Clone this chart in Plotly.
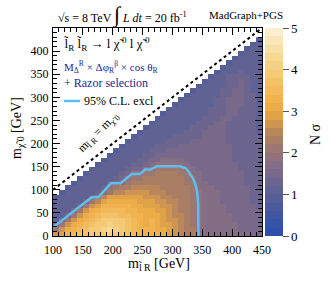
import plotly.graph_objects as go

# ---------------- data ----------------
# cell lower edges (GeV), 10 GeV cells
M_SLEPTON_EDGES = list(range(100, 450, 10))   # x: 100 ... 440
M_CHI_EDGES = list(range(0, 430, 10))         # y: 0 ... 420

# N sigma per row (row y = M_CHI_EDGES[i]); each row starts at x = max(100, y+20)
# letter code: a=0.0, f=1.0, k=2.0, p=3.0, u=4.0, z=5.0 (0.2 per letter)
ROWS = [
    "noqrsst ttuttsrqq qqponmllj iiiiiiiihh",  # 0
    "knpqrst tuvutsrqq qpponmllj iiiiiihhhh",  # 10
    "hknpqrs ttuttsrqp qpoonmlkj iiiiiihhhh",  # 20
    "fhknpqr sttttsrqp qponnmlkj iiiiihhhhh",  # 30
    "ffhknpq rsssrrqqp pponmmlkj iiiiihhhhh",  # 40
    "fffhknp qrrrrqqpp poonmllkj iiiihhhhhh",  # 50
    "ffffhkn oqqqqqppo oonnmllkj iiiihhhhhg",  # 60
    "fffffhk mopppppoo onnmmllkj iiihhhhhgg",  # 70
    "efffffh jmoooooon nnmmlllkj iiihhhhhgg",  # 80
    "efffff gikmmnnnn mmmllllkj iiihhhhhgg",   # 90
    "effff fgjkllmmm mmlllllki iihhhhhhgg",    # 100
    "efff ffhiiklll llllllkki ihhhhhhggg",     # 110
    "eff fffghjkkl llllllkji hhhhhhhggg",      # 120
    "ef ffffghjjk kllllkkii hhhhhhhggg",       # 130
    "e fffffghhj jkkkkkjih hhhhhhgggg",        # 140
    "efffffggh ijjjjjihh hhhhhhgggg",          # 150
    "efffffgg hhiiiihhh hhhhhggggg",           # 160
    "efffffg ghhhhhhhh hhhhhggggg",            # 170
    "efffff ggghhhhhh hhhhhggggg",             # 180
    "effff fgggghhhh hhhhhggggg",              # 190
    "efff fffgggghh hhhhgggggg",               # 200
    "eff ffffggggg hhhhgggggg",                # 210
    "ef ffffffggg hhhhgggggf",                 # 220
    "e fffffffgg ghhhgggggf",                  # 230
    "efffffffg gghhgggggf",                    # 240
    "efffffff ggghhggggf",                     # 250
    "effffff fggghhgggf",                      # 260
    "efffff fggghhgggf",                       # 270
    "effff ffgghhhggf",                        # 280
    "efff ffgghhhggf",                         # 290
    "eff fffgghhggf",                          # 300
    "ef fffgghhgff",                           # 310
    "e ffffgghgff",                            # 320
    "efffgghgff",                              # 330
    "effggggff",                               # 340
    "efffgfff",                                # 350
    "effffff",                                 # 360
    "efffff",                                  # 370
    "effff",                                   # 380
    "efff",                                    # 390
    "eff",                                     # 400
    "ef",                                      # 410
    "e",                                       # 420
]

# 95% C.L. exclusion contour (GeV)
EXCL_X = [100, 165, 176, 197, 213, 232, 246, 254, 264, 274, 312, 322, 327, 333, 337, 340, 342, 343, 343.5]
EXCL_Y = [19, 84, 84, 114, 114, 134, 134, 144, 144, 151, 151, 147, 139, 128, 117, 105, 88, 70, 0]

DIAG_X = [100, 450]
DIAG_Y = [100, 450]

X_TICKS = [100, 150, 200, 250, 300, 350, 400, 450]
Y_TICKS = [0, 50, 100, 150, 200, 250, 300, 350, 400]
Z_TICKS = [0, 1, 2, 3, 4, 5]

# ---------------- build grid ----------------
nx, ny = len(M_SLEPTON_EDGES), len(M_CHI_EDGES)
Z = [[None] * nx for _ in range(ny)]
for i, (ych, row) in enumerate(zip(M_CHI_EDGES, ROWS)):
    codes = row.replace(" ", "")
    start = max(100, ych + 20)
    j0 = (start - 100) // 10
    for k, c in enumerate(codes):
        j = j0 + k
        if j < nx:
            Z[i][j] = (ord(c) - 97) * 0.2 + 0.1

xc = [e + 5 for e in M_SLEPTON_EDGES]
yc = [e + 5 for e in M_CHI_EDGES]

# banded colour scale (25 bands 0..5)
anchors = [(0.0, "#2a4fb0"), (0.4, "#3a55a2"), (0.8, "#525c99"), (1.0, "#5b6096"),
           (1.4, "#71678d"), (1.8, "#8b7082"), (2.0, "#977577"), (2.4, "#b0815f"),
           (2.8, "#d69a4e"), (3.0, "#eba943"), (3.4, "#f1b655"), (3.8, "#f3c670"),
           (4.2, "#f5d58c"), (4.6, "#f8e3ae"), (5.0, "#fcf3da")]


def hex2rgb(h):
    return tuple(int(h[i:i + 2], 16) for i in (1, 3, 5))


def col_at(v):
    for (v0, c0), (v1, c1) in zip(anchors[:-1], anchors[1:]):
        if v0 <= v <= v1:
            t = (v - v0) / (v1 - v0)
            a, b = hex2rgb(c0), hex2rgb(c1)
            return "rgb(%d,%d,%d)" % tuple(round(a[q] + (b[q] - a[q]) * t) for q in range(3))
    return anchors[-1][1]


NB = 25
cscale = []
for b in range(NB):
    c = col_at((b + 0.5) * 5 / NB)
    cscale.append([b / NB, c])
    cscale.append([(b + 1) / NB, c])

# ---------------- figure ----------------
W, H = 332, 287
PL, PR, PT, PB = 53, 262, 28, 236
SERIF = "Liberation Serif"


def px(x):
    return (x - PL) / (PR - PL)


def py(y):
    return (PB - y) / (PB - PT)


fig = go.Figure()
fig.add_trace(go.Heatmap(
    x=xc, y=yc, z=Z, zmin=0, zmax=5, colorscale=cscale, hoverongaps=False,
    colorbar=dict(thickness=18, len=1, lenmode="fraction", y=0.5, yanchor="middle",
                  x=px(265), xanchor="left", xpad=0, ypad=0, outlinewidth=0,
                  ticks="outside", ticklen=6, tickcolor="#555", tickvals=Z_TICKS,
                  tickfont=dict(family=SERIF, size=13, color="black")),
))
fig.add_trace(go.Scatter(x=DIAG_X, y=DIAG_Y, mode="lines",
                         line=dict(color="black", width=2, dash="3px,3px"), showlegend=False))
fig.add_trace(go.Scatter(x=EXCL_X, y=EXCL_Y, mode="lines",
                         line=dict(color="#5cbff0", width=2.5), showlegend=False))

axis_common = dict(showline=True, linecolor="black", linewidth=1, mirror="allticks",
                   ticks="inside", ticklen=7, tickcolor="black", showgrid=False, zeroline=False,
                   automargin=False,
                   tickfont=dict(family=SERIF, size=12, color="black"))
fig.update_xaxes(range=[100, 450], tickmode="array", tickvals=X_TICKS, ticklabelstandoff=3,
                 minor=dict(tickmode="linear", tick0=100, dtick=10, ticks="inside", ticklen=4,
                            tickcolor="black"), **axis_common)
fig.update_yaxes(range=[0, 450], tickmode="array", tickvals=Y_TICKS, ticklabelstandoff=1,
                 minor=dict(tickmode="linear", tick0=0, dtick=10, ticks="inside", ticklen=4,
                            tickcolor="black"), **axis_common)

NAVY = "#252a8c"
CHI0 = "χ\u0303\u2009<sup>0</sup>"
ann = [
    dict(x=px(122), y=py(15), xanchor="center",
         text="√s = 8 TeV <span style='font-size:22px'>∫</span> <i>L dt</i> = 20 fb<sup>-1</sup>",
         font=dict(family=SERIF, size=12, color="black")),
    dict(x=px(246), y=py(15), xanchor="center", text="MadGraph+PGS",
         font=dict(family=SERIF, size=11, color="black")),
    dict(x=px(62), y=py(44), xanchor="left",
         text="l\u0303<sub>R</sub> l\u0303<sub>R</sub> → l " + CHI0 + " l " + CHI0,
         font=dict(family=SERIF, size=13, color="black")),
    dict(x=px(62), y=py(67), xanchor="left",
         text="M<sub>Δ</sub><sup>R</sup> × Δφ<sub>R</sub><sup>β</sup> × cos θ<sub>R</sub>",
         font=dict(family=SERIF, size=11, color=NAVY)),
    dict(x=px(62), y=py(83), xanchor="left", text="+ Razor selection",
         font=dict(family=SERIF, size=12, color=NAVY)),
    dict(x=px(82), y=py(101), xanchor="left", text="95% C.L. excl",
         font=dict(family=SERIF, size=12, color="black")),
    dict(x=px(98), y=py(133), xanchor="center", textangle=-45,
         text="m<sub>l\u0303 R</sub> = m<sub>χ\u0303 0</sub>",
         font=dict(family=SERIF, size=12, color="black")),
    dict(x=px(159), y=py(264), xanchor="center",
         text="m<sub>l\u0303 R</sub> [GeV]", font=dict(family=SERIF, size=14, color="black")),
    dict(x=px(18), y=py(128), xanchor="center", yanchor="middle", textangle=-90,
         text="m<sub>χ\u0303 0</sub> [GeV]", font=dict(family=SERIF, size=14, color="black")),
    dict(x=px(315), y=py(134), xanchor="center", yanchor="middle", textangle=-90,
         text="N σ", font=dict(family=SERIF, size=14, color="black")),
]
for a in ann:
    a.setdefault("yanchor", "middle")
    a.update(xref="paper", yref="paper", showarrow=False)

fig.update_layout(
    width=W, height=H, autosize=False,
    margin=dict(l=PL, r=W - PR, t=PT, b=H - PB, pad=0, autoexpand=False),
    paper_bgcolor="white", plot_bgcolor="white",
    annotations=ann, showlegend=False,
    shapes=[dict(type="line", xref="paper", yref="paper", x0=px(64), x1=px(80),
                 y0=py(101), y1=py(101), line=dict(color="#5cbff0", width=2.5))],
)

fig.write_html("out.html", config={"displayModeBar": False},
               post_script="document.body.style.margin='0';document.body.style.padding='0';")
